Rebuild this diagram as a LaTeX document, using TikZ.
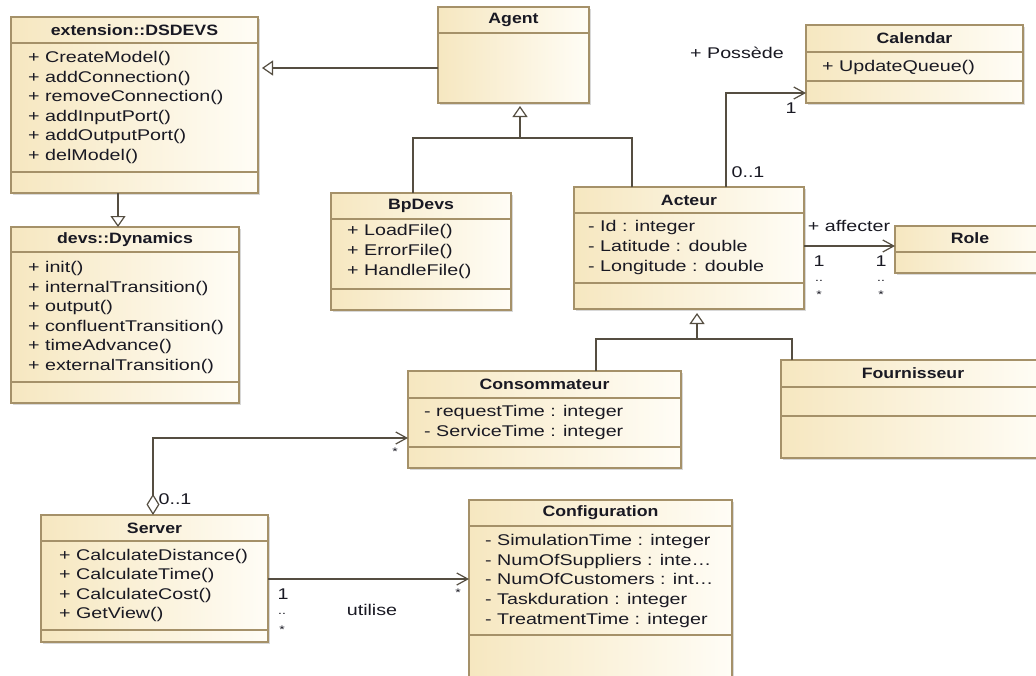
\documentclass[tikz,border=0pt]{standalone}
\usepackage{fontspec}
\setmainfont[FakeStretch=1.27, BoldFeatures={FakeStretch=1.18}]{Liberation Sans}
\usetikzlibrary{arrows.meta,shadows}
\definecolor{boxL}{RGB}{246,231,192}
\definecolor{boxR}{RGB}{255,253,246}
\definecolor{boxB}{RGB}{165,145,105}
\definecolor{lineC}{RGB}{85,78,65}
\definecolor{txt}{RGB}{25,25,35}
\newcommand\hdiv[2]{\draw[div] ([yshift=-#2pt]#1.north west) -- ([yshift=-#2pt]#1.north east);}
\begin{document}
\begin{tikzpicture}[x=1pt,y=-1pt,
  cls/.style={draw=boxB, line width=1.3pt, left color=boxL, right color=boxR,
    inner sep=0pt, outer sep=0pt, anchor=north west,
    drop shadow={shadow xshift=1.5pt, shadow yshift=-1.5pt, opacity=0.3, fill=gray}},
  div/.style={draw=boxB, line width=1.1pt},
  ttl/.style={font=\fontsize{15}{18}\selectfont\bfseries, text=txt, inner sep=0pt},
  mem/.style={font=\fontsize{15.5}{18}\selectfont, text=txt, anchor=west, inner sep=0pt, text height=11pt, text depth=3pt},
  lbl/.style={font=\fontsize{15.5}{18}\selectfont, text=txt, inner sep=0pt},
  sml/.style={font=\fontsize{11}{12}\selectfont, text=txt, inner sep=0pt},
  line/.style={draw=lineC, line width=1.2pt},
  gen/.style={line, -{Triangle[open, length=11pt, width=15pt, fill=white]}},
  assoc/.style={line, -{Straight Barb[length=11pt, width=12pt]}},
  agg/.style={line, {Diamond[open, length=21pt, width=13pt, fill=white]}-{Straight Barb[length=11pt, width=12pt]}}
]
\useasboundingbox (0,0) rectangle (1036,675);
\fill[white] (0,0) rectangle (1036,675);
\clip (0,0) rectangle (1036,675);

% ---------- class boxes ----------
\node[cls, minimum width=247pt, minimum height=176pt] (dsdevs) at (11,17) {};
\hdiv{dsdevs}{26}\hdiv{dsdevs}{155}
\node[ttl] (dsdevsT) at ([yshift=-13pt]dsdevs.north) {extension::DSDEVS};
\node[mem] (ds1) at (28,58) {+ CreateModel()};
\node[mem] (ds2) at (28,78) {+ addConnection()};
\node[mem] (ds3) at (28,97) {+ removeConnection()};
\node[mem] (ds4) at (28,117) {+ addInputPort()};
\node[mem] (ds5) at (28,136) {+ addOutputPort()};
\node[mem] (ds6) at (28,156) {+ delModel()};

\node[cls, minimum width=228pt, minimum height=176pt] (dyn) at (11,227) {};
\hdiv{dyn}{25}\hdiv{dyn}{155}
\node[ttl] (dynT) at ([yshift=-13pt]dyn.north) {devs::Dynamics};
\node[mem] (dy1) at (28,268) {+ init()};
\node[mem] (dy2) at (28,288) {+ internalTransition()};
\node[mem] (dy3) at (28,307) {+ output()};
\node[mem] (dy4) at (28,327) {+ confluentTransition()};
\node[mem] (dy5) at (28,346) {+ timeAdvance()};
\node[mem] (dy6) at (28,366) {+ externalTransition()};

\node[cls, minimum width=151pt, minimum height=96pt] (agent) at (438,7) {};
\hdiv{agent}{26}
\node[ttl] (agentT) at ([yshift=-13pt]agent.north) {Agent};

\node[cls, minimum width=180pt, minimum height=117pt] (bp) at (331,193) {};
\hdiv{bp}{26}\hdiv{bp}{96}
\node[ttl] (bpT) at ([yshift=-13pt]bp.north) {BpDevs};
\node[mem] (bp1) at (347,231) {+ LoadFile()};
\node[mem] (bp2) at (347,251) {+ ErrorFile()};
\node[mem] (bp3) at (347,271) {+ HandleFile()};

\node[cls, minimum width=230pt, minimum height=122pt] (act) at (574,187) {};
\hdiv{act}{26}\hdiv{act}{96}
\node[ttl] (actT) at ([yshift=-13pt]act.north) {Acteur};
\node[mem] (ac1) at (588,227) {- Id : integer};
\node[mem] (ac2) at (588,247) {- Latitude : double};
\node[mem] (ac3) at (588,267) {- Longitude : double};

\node[cls, minimum width=217pt, minimum height=78pt] (cal) at (806,25) {};
\hdiv{cal}{27}\hdiv{cal}{56}
\node[ttl] (calT) at ([yshift=-13pt]cal.north) {Calendar};
\node[mem] (ca1) at (822,67) {+ UpdateQueue()};

\node[cls, minimum width=150pt, minimum height=47pt] (role) at (895,226) {};
\hdiv{role}{26}
\node[ttl] (roleT) at ([yshift=-12pt]role.north) {Role};

\node[cls, minimum width=273pt, minimum height=97pt] (cons) at (408,371) {};
\hdiv{cons}{27}\hdiv{cons}{76}
\node[ttl] (consT) at ([yshift=-13pt]cons.north) {Consommateur};
\node[mem] (co1) at (424,412) {- requestTime : integer};
\node[mem] (co2) at (424,432) {- ServiceTime : integer};

\node[cls, minimum width=264pt, minimum height=98pt] (four) at (781,360) {};
\hdiv{four}{27}\hdiv{four}{56}
\node[ttl] (fourT) at ([yshift=-13pt]four.north) {Fournisseur};

\node[cls, minimum width=227pt, minimum height=127pt] (srv) at (41,515) {};
\hdiv{srv}{26}\hdiv{srv}{115}
\node[ttl] (srvT) at ([yshift=-13pt]srv.north) {Server};
\node[mem] (sv1) at (59,556) {+ CalculateDistance()};
\node[mem] (sv2) at (59,575) {+ CalculateTime()};
\node[mem] (sv3) at (59,595) {+ CalculateCost()};
\node[mem] (sv4) at (59,614) {+ GetView()};

\node[cls, minimum width=263pt, minimum height=200pt] (conf) at (469,500) {};
\hdiv{conf}{26}\hdiv{conf}{135}
\node[ttl] (confT) at ([yshift=-13pt]conf.north) {Configuration};
\node[mem] (cf1) at (485,541) {- SimulationTime : integer};
\node[mem] (cf2) at (485,561) {- NumOfSuppliers : inte…};
\node[mem] (cf3) at (485,580) {- NumOfCustomers : int…};
\node[mem] (cf4) at (485,600) {- Taskduration : integer};
\node[mem] (cf5) at (485,620) {- TreatmentTime : integer};

% ---------- connectors ----------
\draw[gen, shorten >=4pt] ([yshift=-13pt]agent.west) -- ([yshift=-13pt]agent.west -| dsdevs.east);
\draw[gen] ([xshift=-16.5pt]dsdevs.south) -- ([xshift=-16.5pt]dsdevs.south |- dyn.north);

\coordinate (jA) at (520,138);
\draw[line] ([xshift=-8pt]bp.north) |- (jA);
\draw[line] ([xshift=-57pt]act.north) |- (jA);
\draw[gen, shorten >=3pt] (jA) -- (jA |- agent.south);

\coordinate (jB) at (697,339);
\draw[line] ([xshift=51.5pt]cons.north) |- (jB);
\draw[line] ([xshift=-121pt]four.north) |- (jB);
\draw[gen, shorten >=4pt] (jB) -- (jB |- act.south);

\draw[assoc] ([xshift=37pt]act.north) |- ([yshift=-29pt]cal.west);
\draw[assoc] ([yshift=2pt]act.east) -- ([yshift=2pt]act.east -| role.west);
\draw[agg] ([xshift=-1.5pt]srv.north) |- ([yshift=-18.5pt]cons.west);
\draw[assoc] ([yshift=-0.5pt]srv.east) -- ([yshift=-0.5pt]srv.east -| conf.west);

% ---------- labels ----------
\node[lbl] (lPos) at (737,53) {+ Possède};
\node[lbl] (lCal1) at (791,108) {1};
\node[lbl] (lAct01) at (748,172) {0..1};
\node[lbl] (lAff) at (849,226) {+ affecter};
\node[lbl] (lA1) at (819,261) {1};
\node[sml] (lA2) at (819,281) {..};
\node[sml] (lA3) at (819,295) {*};
\node[lbl] (lR1) at (881,261) {1};
\node[sml] (lR2) at (881,281) {..};
\node[sml] (lR3) at (881,295) {*};
\node[sml] (lCs) at (395,452) {*};
\node[lbl] (lS01) at (175,499) {0..1};
\node[lbl] (lS1) at (283,594) {1};
\node[sml] (lS2) at (282,614) {..};
\node[sml] (lS3) at (282,630) {*};
\node[lbl] (lUt) at (372,610) {utilise};
\node[sml] (lCf) at (458,593) {*};
\end{tikzpicture}
\end{document}
